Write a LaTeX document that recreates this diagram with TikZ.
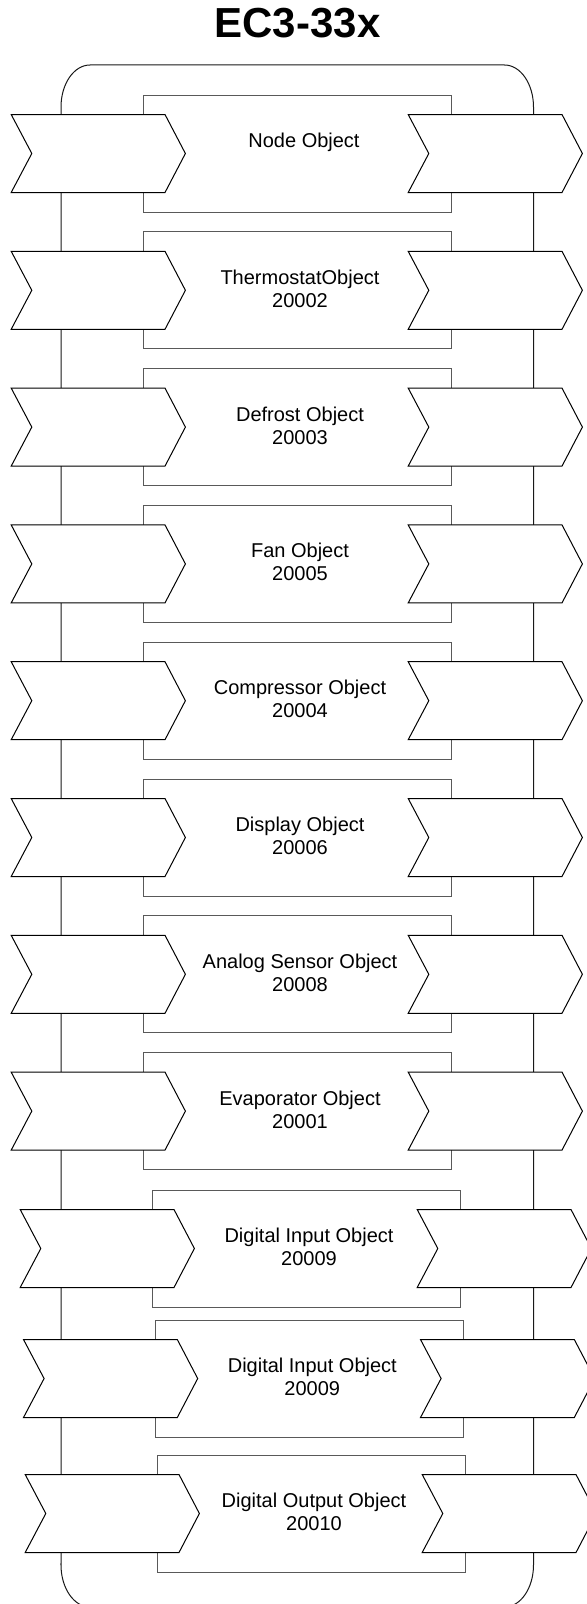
\documentclass[tikz,border=0pt]{standalone}
\usepackage{fontspec}
\setmainfont{Liberation Sans}
\tikzset{
  chev/.style={draw=black, fill=white, line width=1bp, line join=miter},
  outerbox/.style={draw=black!90, line width=1bp},
  inbox/.style={draw=black!65, fill=white, line width=1bp, rectangle,
    minimum width=308bp, minimum height=117bp, inner sep=0pt, outer sep=0pt, anchor=north west},
  lbl/.style={font=\fontsize{20bp}{23bp}\selectfont, inner sep=0pt, anchor=base},
  ttl/.style={font=\fontsize{42bp}{50bp}\selectfont\bfseries, inner sep=0pt, anchor=base},
}
\newcommand\mkshapes[3]{% #1 id, #2 top, #3 dx
  \node[inbox] (box#1) at (143+#3, #2) {};
  \draw[chev] (11.2+#3, #2+19.5) -- ++(153.8,0) -- ++(20.4,39) -- ++(-20.4,39)
     -- ++(-153.8,0) -- ++(20.6,-39) -- cycle;
  \draw[chev] (408.2+#3, #2+19.5) -- ++(153.8,0) -- ++(20.4,39) -- ++(-20.4,39)
     -- ++(-153.8,0) -- ++(20.6,-39) -- cycle;
}
\newcommand\mkblock[5]{% #1 id, #2 top, #3 dx, #4 line1, #5 line2
  \mkshapes{#1}{#2}{#3}
  \node[lbl] (la#1) at (300+#3, #2+52.5) {#4};
  \node[lbl] (lb#1) at (300+#3, #2+75.5) {#5};
}
\begin{document}
\begin{tikzpicture}[x=1bp, y=-1bp]
  \path[use as bounding box, clip] (0,0) rectangle (587,1604);
  % title
  \node[ttl] (title) at (297.5,37.3) {EC3-33x};
  % outer rounded frame
  \draw[outerbox] (61,1565) -- (61,107)
     arc[start angle=180, end angle=90, x radius=29bp, y radius=42bp]
     -- (504.5,65)
     arc[start angle=90, end angle=0, x radius=29bp, y radius=42bp]
     -- (533.5,1565)
     arc[start angle=0, end angle=-90, x radius=29bp, y radius=42bp]
     -- (90,1607)
     arc[start angle=-90, end angle=-180, x radius=29bp, y radius=42bp]
     -- cycle;
  % block 1
  \mkshapes{1}{95}{0}
  \node[lbl] (la1) at (304,147.5) {Node Object};
  \mkblock{2}{231.8}{0}{ThermostatObject}{20002}
  \mkblock{3}{368.6}{0}{Defrost Object}{20003}
  \mkblock{4}{505.4}{0}{Fan Object}{20005}
  \mkblock{5}{642.2}{0}{Compressor Object}{20004}
  \mkblock{6}{779}{0}{Display Object}{20006}
  \mkblock{7}{915.8}{0}{Analog Sensor Object}{20008}
  \mkblock{8}{1052.6}{0}{Evaporator Object}{20001}
  \mkblock{9}{1190}{9}{Digital Input Object}{20009}
  \mkblock{10}{1320}{12.3}{Digital Input Object}{20009}
  \mkblock{11}{1455}{14}{Digital Output Object}{20010}
\end{tikzpicture}
\end{document}
